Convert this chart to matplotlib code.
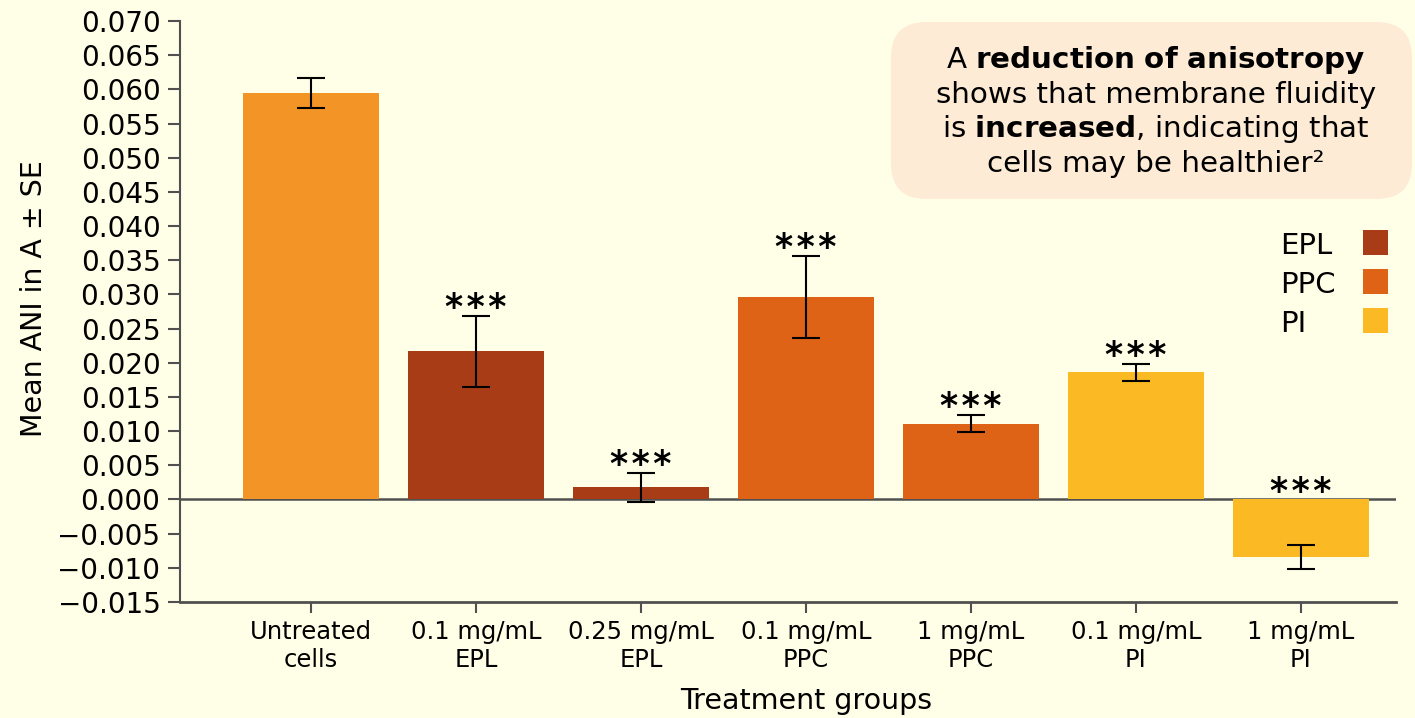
import numpy as np
import matplotlib.pyplot as plt
from matplotlib.patches import FancyBboxPatch, Rectangle
from matplotlib.ticker import MultipleLocator, FuncFormatter

# treatment groups and measured values
groups = ['Untreated\ncells', '0.1 mg/mL\nEPL', '0.25 mg/mL\nEPL', '0.1 mg/mL\nPPC',
          '1 mg/mL\nPPC', '0.1 mg/mL\nPI', '1 mg/mL\nPI']
mean_ani = [0.0595, 0.0217, 0.0018, 0.0296, 0.0111, 0.0186, -0.00835]
se = [0.0022, 0.0052, 0.0021, 0.0060, 0.0013, 0.00125, 0.00175]
signif = ['', '***', '***', '***', '***', '***', '***']
group_type = ['Untreated', 'EPL', 'EPL', 'PPC', 'PPC', 'PI', 'PI']
legend_names = ['EPL', 'PPC', 'PI']

colours = {'Untreated': '#F39426', 'EPL': '#A83C17', 'PPC': '#DE6316', 'PI': '#FBBA23'}
bg = '#FFFFE8'
W, H = 1415, 718

plt.rcParams['mathtext.fontset'] = 'dejavusans'

fig = plt.figure(figsize=(W / 100, H / 100), dpi=100, facecolor=bg)
ax = fig.add_axes([180 / W, 1 - 602 / H, (1396 - 180) / W, (602 - 21) / H], facecolor=bg)

x = np.arange(len(groups))
ax.bar(x, mean_ani, width=0.82, color=[colours[g] for g in group_type], zorder=2)
ax.errorbar(x, mean_ani, yerr=se, fmt='none', ecolor='black', elinewidth=1.5,
            capsize=10, capthick=1.5, zorder=3)

# significance stars above the error bars (or above zero for the negative bar)
for xi, m, s, lab in zip(x, mean_ani, se, signif):
    if lab:
        top = max(m + s, 0)
        ax.annotate('\u200a'.join(lab), (xi, top), xytext=(0, -1.5), textcoords='offset points',
                    ha='center', va='baseline', fontsize=25, fontweight='bold')

ax.axhline(0, color='#505050', lw=1.8, zorder=1)

ax.set_xlim(-0.794, 6.576)
ax.set_ylim(-0.015, 0.070)
ax.yaxis.set_major_locator(MultipleLocator(0.005))
ax.yaxis.set_major_formatter(FuncFormatter(
    lambda v, p: ('%.3f' % v).replace('-0.000', '0.000').replace('-', '\u2212')))
ax.set_xticks(x)
ax.set_xticklabels(groups, fontsize=17.5, linespacing=1.22)
ax.tick_params(axis='y', labelsize=20, length=8.6, width=1.5, color='#505050', pad=5.5)
ax.tick_params(axis='x', length=8, width=1.5, color='#505050', pad=5)

for side in ['top', 'right']:
    ax.spines[side].set_visible(False)
ax.spines['left'].set_color('#505050')
ax.spines['left'].set_linewidth(1.5)
ax.spines['bottom'].set_color('#505050')
ax.spines['bottom'].set_linewidth(2)

ax.set_ylabel('Mean ANI in A \u00b1 SE', fontsize=20.5)
ax.yaxis.set_label_coords((48 - 180) / (1396 - 180), 0.522)
ax.set_xlabel('Treatment groups', fontsize=20.5)
ax.xaxis.set_label_coords((3 + 0.794) / 7.37, -0.146)

# legend: names on the left, colour squares on the right
for name, base in zip(legend_names, [254, 293, 332]):
    fig.text(1280 / W, 1 - base / H, name, ha='left', va='baseline', fontsize=21)
    fig.add_artist(Rectangle((1363 / W, 1 - (base + 1) / H), 25 / W, 25 / H,
                             transform=fig.transFigure, facecolor=colours[name],
                             edgecolor='none'))

# callout box
box = FancyBboxPatch((891 / W, 1 - 199 / H), (1412 - 891) / W, 177 / H,
                     boxstyle='round,pad=0,rounding_size=0.025',
                     transform=fig.transFigure, facecolor='#FDEBD6', edgecolor='none',
                     mutation_aspect=W / H, zorder=5)
fig.patches.append(box)
fig.text(1156 / W, 1 - 111 / H,
         'A $\\bf{reduction\\ of\\ anisotropy}$\n'
         'shows that membrane fluidity\n'
         'is $\\bf{increased}$, indicating that\n'
         'cells may be healthier\u00b2',
         ha='center', va='center', multialignment='center', fontsize=21.2,
         linespacing=1.2, zorder=6)

fig.savefig('out.png', dpi=100, facecolor=bg)
